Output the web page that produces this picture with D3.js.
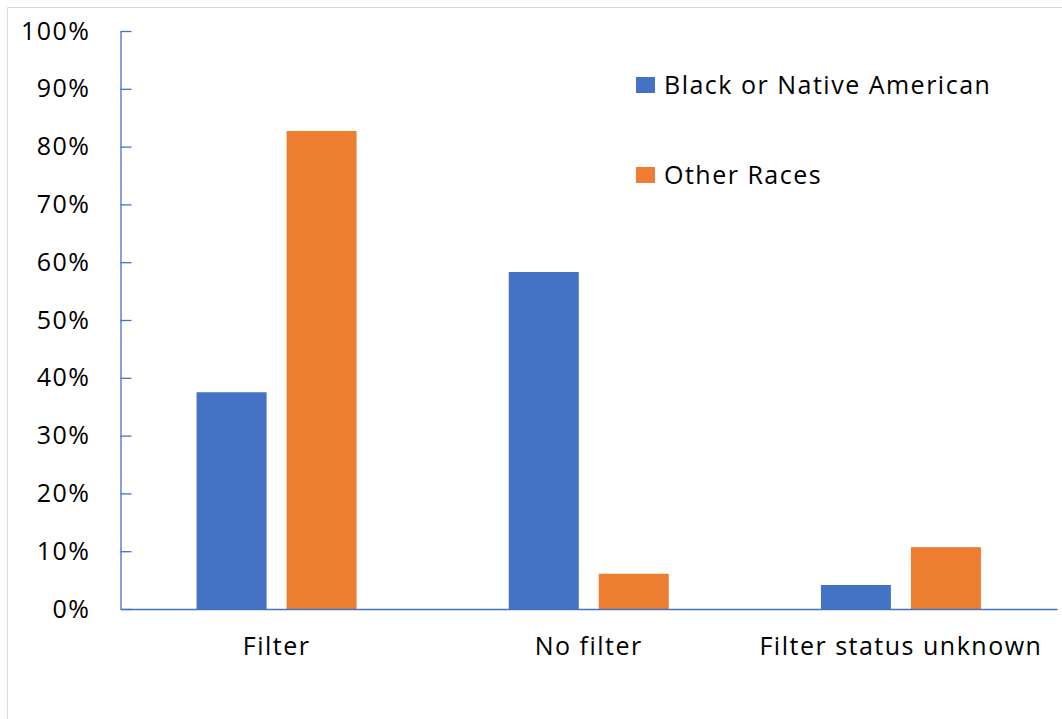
<!DOCTYPE html>
<html>
<head>
<meta charset="utf-8">
<script src="https://cdn.jsdelivr.net/npm/d3@7"></script>
<style>
  html, body { margin: 0; padding: 0; background: #fff; }
  svg { display: block; }
  text { font-family: "Open Sans", sans-serif; fill: #000; letter-spacing: 1.5px; }
</style>
</head>
<body>
<svg id="chart" width="1062" height="719"></svg>
<script>
// Share of cases by filter status, split by race group
const categories = ["Filter", "No filter", "Filter status unknown"];
const seriesNames = ["Black or Native American", "Other Races"];
const blackNative = [37.5, 58.3, 4.15];
const otherRaces = [82.7, 6.1, 10.7];
const seriesColors = ["#4472C4", "#ED7D31"];
const yTicks = [0, 10, 20, 30, 40, 50, 60, 70, 80, 90, 100];

const values = [blackNative, otherRaces];
const svg = d3.select("#chart");
const W = 1062, H = 719;

// light frame around the chart area
svg.append("path")
  .attr("d", `M7.5,${H} V7.5 H${W}`)
  .attr("fill", "none")
  .attr("stroke", "#d9d9d9")
  .attr("stroke-width", 1);

const plotLeft = 120.5, plotRight = 1057, plotTop = 31, plotBottom = 609;
const groupWidth = 160, barGap = 20;

const x = d3.scaleBand().domain(categories).range([plotLeft, plotRight]).padding(0);
const inner = d3.scaleBand().domain(seriesNames).range([0, groupWidth])
  .paddingInner(barGap / ((groupWidth + barGap) / 2));
const y = d3.scaleLinear().domain([0, 100]).range([plotBottom, plotTop]);

const fontSize = 25;

// bars
categories.forEach((cat, i) => {
  const gx0 = x(cat) + x.bandwidth() / 2 - groupWidth / 2;
  seriesNames.forEach((s, j) => {
    const v = values[j][i];
    svg.append("rect")
      .attr("x", gx0 + inner(s))
      .attr("y", y(v))
      .attr("width", inner.bandwidth())
      .attr("height", y(0) - y(v))
      .attr("fill", seriesColors[j]);
  });
});

// y axis with inward ticks
const yAxis = d3.axisLeft(y)
  .tickValues(yTicks)
  .tickFormat(d => d + "%")
  .tickSizeInner(-11)
  .tickSizeOuter(0)
  .tickPadding(30);
const gy = svg.append("g").attr("transform", `translate(${plotLeft},0)`).call(yAxis);
gy.select(".domain").attr("stroke", "#4472C4").attr("stroke-width", 1.3);
gy.selectAll(".tick line").attr("stroke", "#4472C4").attr("stroke-width", 1.3);
gy.selectAll(".tick text").attr("font-size", fontSize).attr("font-family", "Open Sans, sans-serif").attr("fill", "#000");

// x axis
const xAxis = d3.axisBottom(x).tickSize(0).tickSizeOuter(0).tickPadding(28);
const gx = svg.append("g").attr("transform", `translate(0,${plotBottom})`).call(xAxis);
gx.select(".domain").attr("stroke", "#4472C4").attr("stroke-width", 1.3);
gx.selectAll(".tick text").attr("font-size", fontSize).attr("font-family", "Open Sans, sans-serif").attr("fill", "#000");

// legend
const legend = svg.append("g");
const legendY = [85, 175];
seriesNames.forEach((s, j) => {
  legend.append("rect")
    .attr("x", 636).attr("y", legendY[j] - 8)
    .attr("width", 19).attr("height", 16)
    .attr("fill", seriesColors[j]);
  legend.append("text")
    .attr("x", 664).attr("y", legendY[j])
    .attr("dy", "0.35em")
    .attr("font-size", fontSize)
    .text(s);
});
</script>
</body>
</html>
